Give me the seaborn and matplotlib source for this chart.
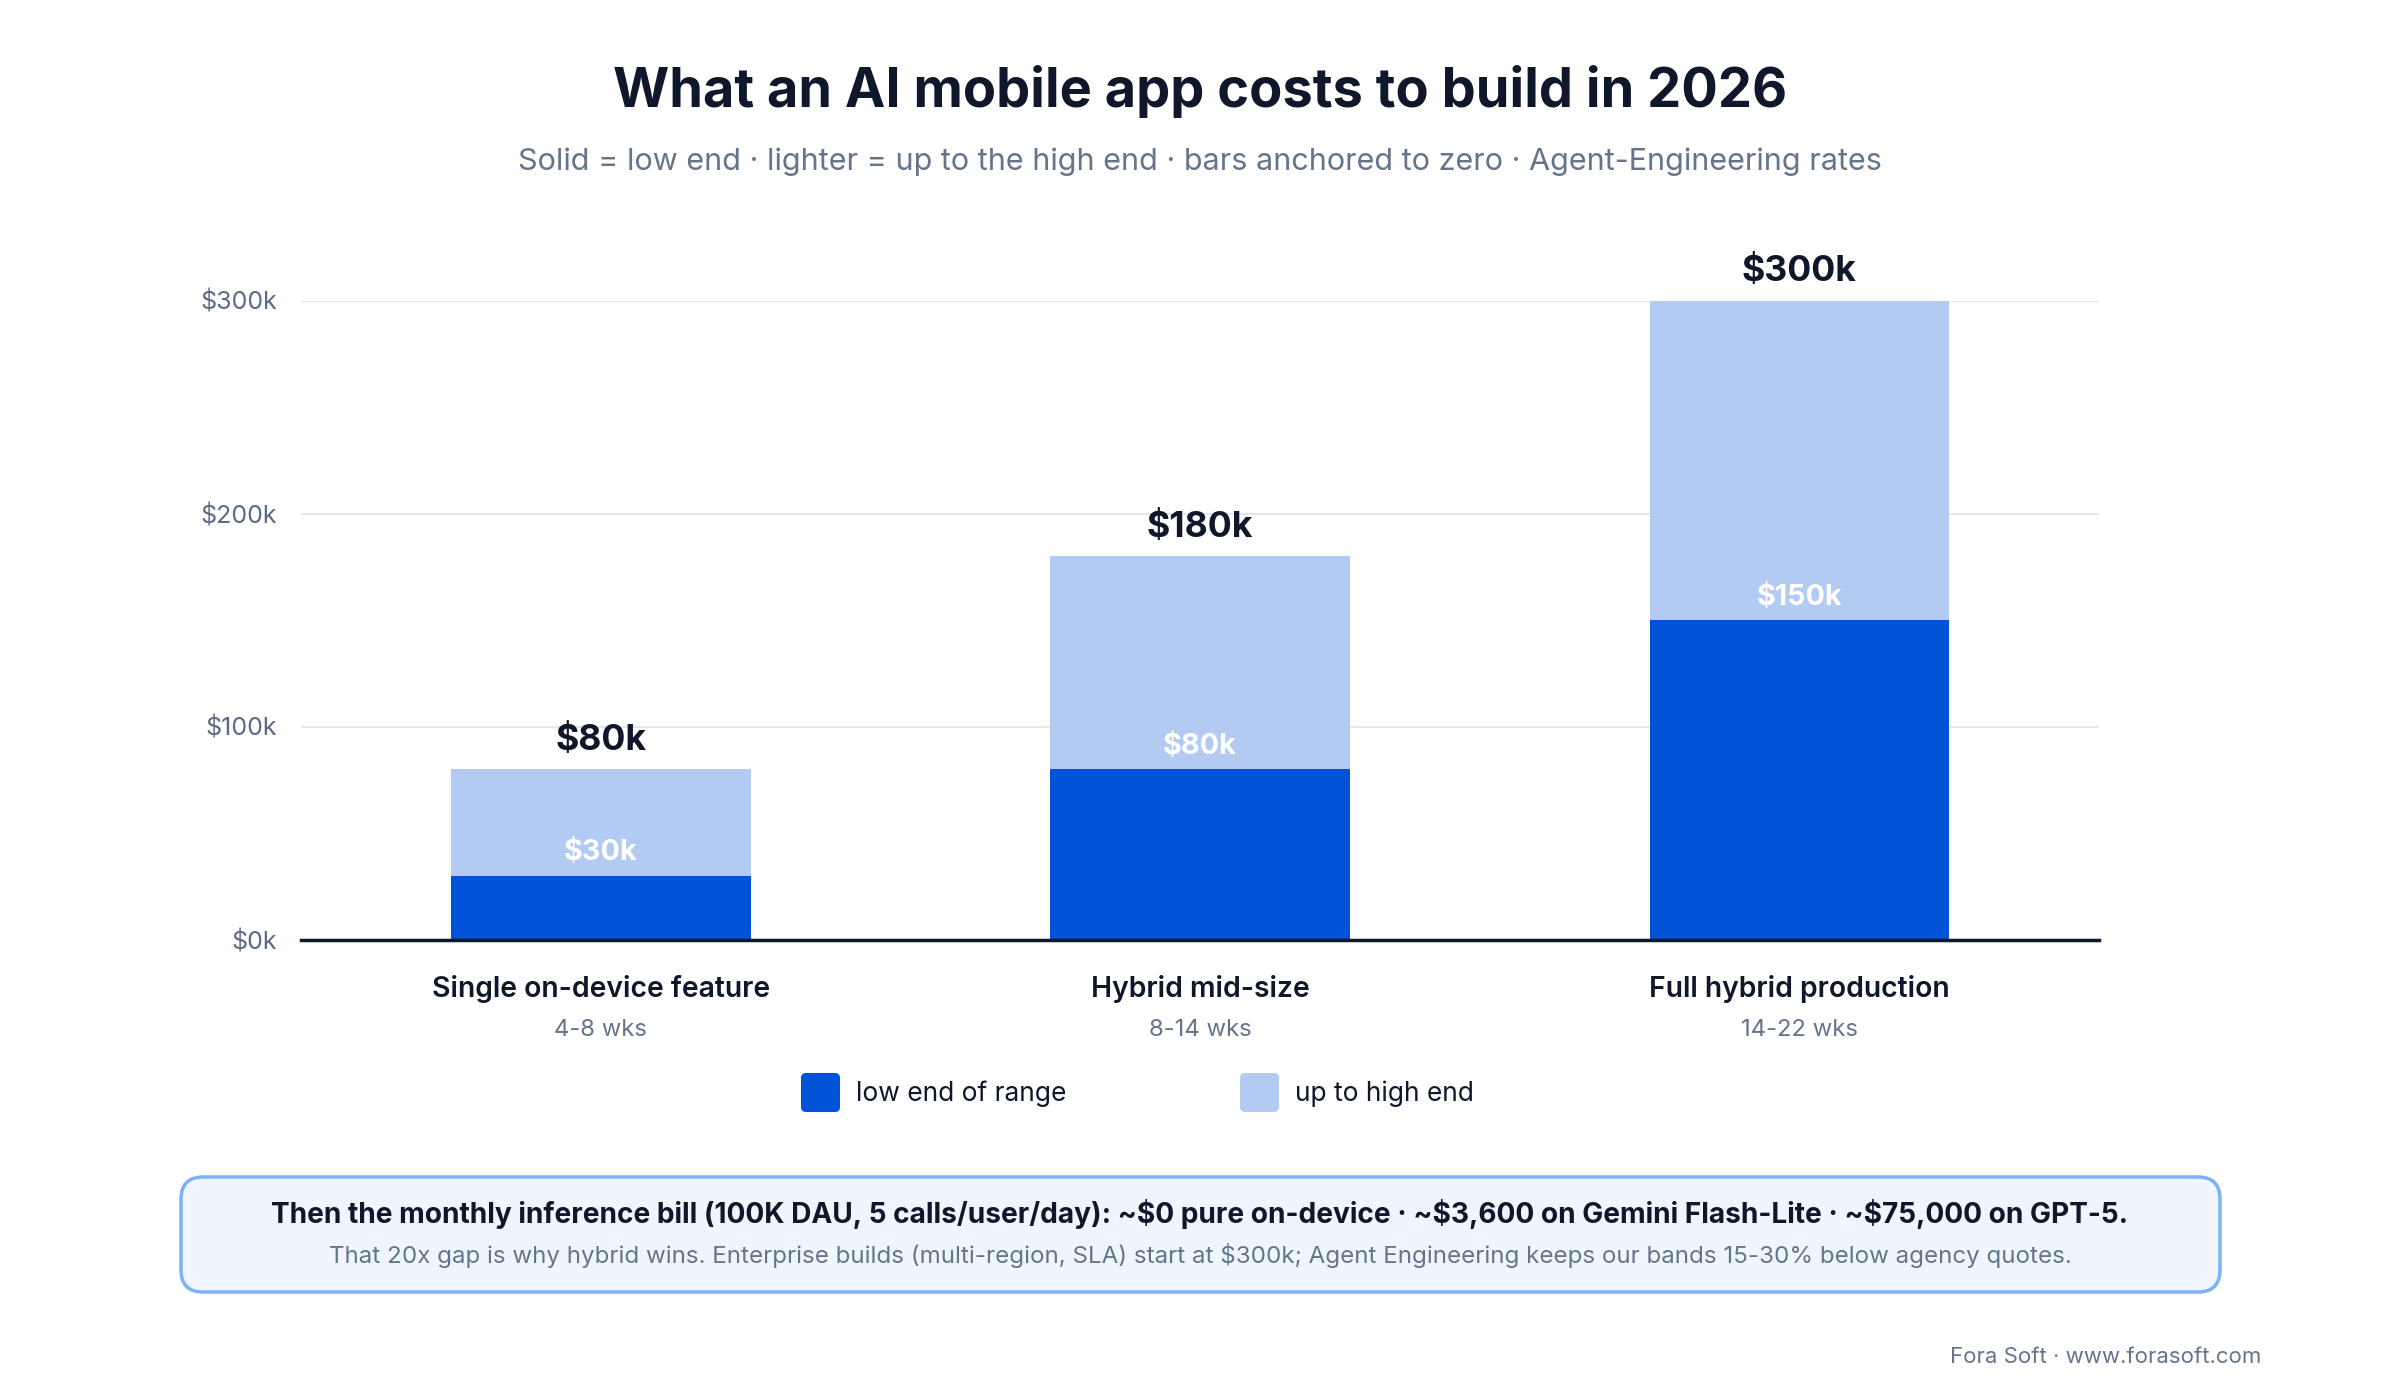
import matplotlib
matplotlib.use("Agg")
import matplotlib.pyplot as plt
import seaborn as sns
import pandas as pd
from matplotlib.patches import FancyBboxPatch

# ---- data ----
categories = ["Single on-device feature", "Hybrid mid-size", "Full hybrid production"]
weeks = ["4-8 wks", "8-14 wks", "14-22 wks"]
low_end = [30000, 80000, 150000]
high_end = [80000, 180000, 300000]
y_ticks = [0, 100000, 200000, 300000]
y_tick_labels = ["$0k", "$100k", "$200k", "$300k"]

title = "What an AI mobile app costs to build in 2026"
subtitle = "Solid = low end \u00b7 lighter = up to the high end \u00b7 bars anchored to zero \u00b7 Agent-Engineering rates"
note_main = ("Then the monthly inference bill (100K DAU, 5 calls/user/day): ~$0 pure on-device \u00b7 "
             "~$3,600 on Gemini Flash-Lite \u00b7 ~$75,000 on GPT-5.")
note_sub = ("That 20x gap is why hybrid wins. Enterprise builds (multi-region, SLA) start at $300k; "
            "Agent Engineering keeps our bands 15-30% below agency quotes.")
footer = "Fora Soft \u00b7 www.forasoft.com"
legend_labels = ["low end of range", "up to high end"]

DARK = "#0052D6"
LIGHT = "#B3CBF3"
INK = "#0F172A"
GRAY = "#64748B"

sns.set_theme(style="white")
plt.rcParams['font.family'] = ['Inter', 'DejaVu Sans']

W, H = 2400, 1400
fig = plt.figure(figsize=(24, 14), dpi=100)
fig.patch.set_facecolor("white")
ax = fig.add_axes([301 / W, 1 - 939.5 / H, (2099 - 301) / W, (939.5 - 300.5) / H])

df = pd.DataFrame({"category": categories, "low": low_end, "high": high_end})
sns.barplot(data=df, x="category", y="high", color=LIGHT, width=0.5, saturation=1,
            linewidth=0, ax=ax, zorder=2)
sns.barplot(data=df, x="category", y="low", color=DARK, width=0.5, saturation=1,
            linewidth=0, ax=ax, zorder=3)

ax.set_xlim(-0.5, 2.5)
ax.set_ylim(0, 300000)
ax.set_yticks(y_ticks)
ax.set_yticklabels(y_tick_labels)
ax.set_xlabel("")
ax.set_ylabel("")
ax.yaxis.grid(True, color="#E2E8F0", lw=1.5, zorder=0)
ax.set_axisbelow(True)
for s in ["top", "right", "left"]:
    ax.spines[s].set_visible(False)
ax.spines["bottom"].set_color(INK)
ax.spines["bottom"].set_linewidth(2.5)
ax.spines["bottom"].set_zorder(5)
ax.tick_params(axis="y", length=0, pad=17, labelsize=18, labelcolor="#5B6B84")
ax.tick_params(axis="x", length=0, pad=25.5, labelsize=20.4, labelcolor=INK)
for lab in ax.get_xticklabels():
    lab.set_fontweight("semibold")

for i, (lo, hi, wk) in enumerate(zip(low_end, high_end, weeks)):
    ax.annotate(f"${hi // 1000}k", xy=(i, hi), xytext=(0, 29), textcoords="offset pixels",
                ha="center", va="center", fontsize=25.7, fontweight="bold", color=INK,
                annotation_clip=False)
    ax.annotate(f"${lo // 1000}k", xy=(i, lo), xytext=(0, 23), textcoords="offset pixels",
                ha="center", va="center", fontsize=20.7, fontweight="bold", color="white",
                zorder=6, annotation_clip=False)
    ax.annotate(wk, xy=(i, 0), xytext=(0, -91), textcoords="offset pixels",
                ha="center", va="center", fontsize=17.2, color=GRAY, annotation_clip=False)

# title / subtitle
fig.text(0.5, 1 - 91 / H, title, ha="center", va="center", fontsize=39, fontweight="bold", color=INK)
fig.text(0.5, 1 - 162 / H, subtitle, ha="center", va="center", fontsize=22, color=GRAY)

# legend
for (x0, lab, col) in [(801, legend_labels[0], DARK), (1240, legend_labels[1], LIGHT)]:
    sq = FancyBboxPatch((x0, H - 1112), 39, 39, boxstyle="round,pad=0,rounding_size=5",
                        transform=None, facecolor=col, edgecolor="none")
    fig.patches.append(sq)
    fig.text((x0 + 55) / W, 1 - 1094 / H, lab, ha="left", va="center", fontsize=19, color=INK)

# note box
box = FancyBboxPatch((181, H - 1292), 2220 - 181, 1292 - 1177,
                     boxstyle="round,pad=0,rounding_size=22", transform=None,
                     facecolor="#EFF6FF", edgecolor="#7CB2F6", linewidth=2.5)
fig.patches.append(box)
fig.text(0.5, 1 - 1214 / H, note_main, ha="center", va="center", fontsize=20.2,
         fontweight="bold", color=INK)
fig.text(0.5, 1 - 1256 / H, note_sub, ha="center", va="center", fontsize=17.4, color=GRAY)

fig.text(2261 / W, 1 - 1357 / H, footer, ha="right", va="center", fontsize=16, color=GRAY)

fig.savefig("out.png", dpi=100, facecolor="white")
